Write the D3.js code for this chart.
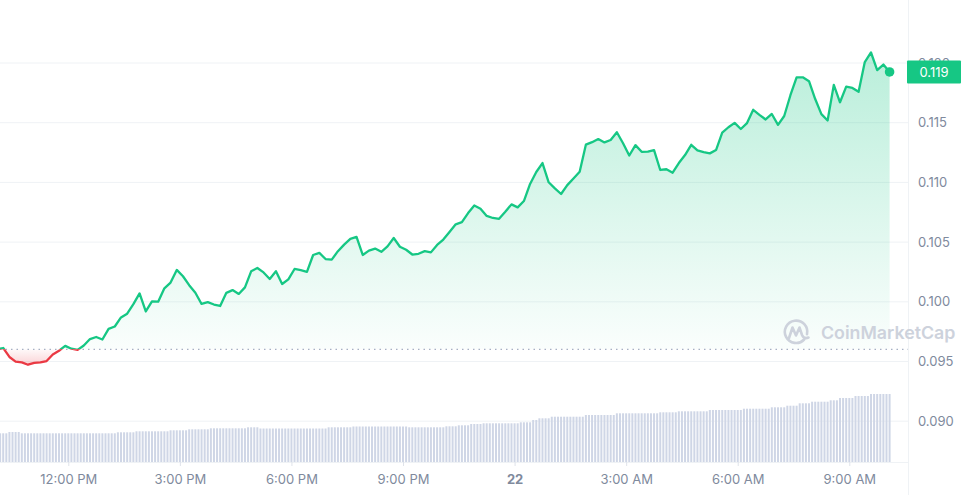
<!DOCTYPE html>
<html>
<head>
<meta charset="utf-8">
<script src="https://cdn.jsdelivr.net/npm/d3@7"></script>
<style>
  html, body { margin: 0; padding: 0; background: #fff; }
  svg { display: block; font-family: Inter, "Noto Sans", sans-serif; }
</style>
</head>
<body>
<div id="chart"></div>
<script>
'use strict';

// price every 10 min, 10:05 AM (21st) -> 10:05 AM (22nd)
const priceStart = new Date(2023, 9, 21, 10, 5);
const prices = [
  0.09602, 0.09613, 0.09538, 0.09499, 0.09493, 0.09473, 0.09488, 0.09492, 0.09504, 0.09559,
  0.09590, 0.09631, 0.09607, 0.09597, 0.09634, 0.09688, 0.09705, 0.09684, 0.09773, 0.09793,
  0.09869, 0.09900, 0.09980, 0.10070, 0.09919, 0.10003, 0.10001, 0.10113, 0.10161, 0.10267,
  0.10214, 0.10139, 0.10076, 0.09982, 0.09997, 0.09977, 0.09965, 0.10075, 0.10098, 0.10066,
  0.10121, 0.10255, 0.10283, 0.10246, 0.10191, 0.10256, 0.10149, 0.10188, 0.10275, 0.10265,
  0.10251, 0.10392, 0.10410, 0.10358, 0.10353, 0.10424, 0.10479, 0.10527, 0.10543, 0.10392,
  0.10429, 0.10446, 0.10419, 0.10464, 0.10534, 0.10461, 0.10436, 0.10396, 0.10402, 0.10424,
  0.10414, 0.10476, 0.10521, 0.10585, 0.10649, 0.10667, 0.10743, 0.10807, 0.10780, 0.10719,
  0.10702, 0.10695, 0.10754, 0.10816, 0.10791, 0.10844, 0.10987, 0.11087, 0.11162, 0.11001,
  0.10950, 0.10903, 0.10977, 0.11033, 0.11090, 0.11316, 0.11337, 0.11363, 0.11335, 0.11355,
  0.11420, 0.11328, 0.11225, 0.11312, 0.11256, 0.11257, 0.11270, 0.11104, 0.11110, 0.11081,
  0.11162, 0.11229, 0.11315, 0.11268, 0.11253, 0.11243, 0.11271, 0.11416, 0.11462, 0.11499,
  0.11447, 0.11497, 0.11608, 0.11566, 0.11527, 0.11573, 0.11482, 0.11556, 0.11730, 0.11879,
  0.11880, 0.11848, 0.11698, 0.11572, 0.11519, 0.11817, 0.11671, 0.11802, 0.11791, 0.11759,
  0.12008, 0.12088, 0.11941, 0.11987, 0.11925
];

// volume bars every 5 min from 10:10 AM
const volumeStart = new Date(2023, 9, 21, 10, 10);
const volumes = [
  287, 287, 287,
  300, 300, 300, 300,
  287, 287, 287, 287, 287, 287, 287, 287, 287, 287, 287, 287, 287, 287, 287, 287,
  287, 287, 287, 287, 287, 287, 287, 287, 287, 287, 287, 287, 287, 287, 287,
  297, 297, 297, 297, 297, 297,
  307, 307, 307, 307, 307, 307, 307, 307, 307, 307, 307,
  317, 317, 317, 317, 317, 317,
  327, 327, 327, 327, 327, 327, 327,
  337, 337, 337, 337, 337, 337, 337, 337, 337, 337, 337, 337,
  347, 347, 347, 347,
  335, 335, 335, 335, 335, 335, 335, 335, 335, 335, 335,
  335, 335, 335, 335, 335, 335, 335, 335, 335, 335, 335,
  347, 347, 347, 347, 347, 347, 347, 347,
  355, 355, 355, 355, 355, 355, 355, 355, 355, 355, 355, 355, 355, 355, 355, 355, 355, 355,
  347, 347, 347, 347, 347, 347, 347, 347, 347, 347, 347, 347,
  357, 357, 357, 357,
  367, 367, 367, 367,
  380, 380, 380, 380,
  387, 387, 387, 387, 387, 387, 387, 387, 387, 387, 387, 387,
  397, 397, 397, 397,
  420, 420,
  437, 437, 437, 437,
  453, 453, 453, 453, 453, 453, 453, 453, 453, 453, 453,
  470, 470, 470, 470, 470, 470, 470, 470, 470, 470,
  487, 487, 487, 487, 487, 487, 487, 487, 487, 487, 487, 487, 487, 487,
  497, 497, 497, 497, 497, 497,
  507, 507, 507, 507, 507, 507, 507, 507, 507, 507,
  520, 520, 520, 520, 520, 520, 520, 520, 520, 520, 520,
  533, 533, 533, 533, 533, 533, 533, 533, 533,
  547, 547, 547, 547, 547,
  563, 563, 563, 563,
  587, 587, 587, 587,
  603, 603, 603, 603, 603, 603,
  617, 617, 617,
  640, 640, 640, 640, 640,
  660, 660, 660, 660, 660,
  680, 680, 680, 680, 680, 680, 680
];

const yTicks = [0.090, 0.095, 0.100, 0.105, 0.110, 0.115, 0.120];
const xTickTimes = [
  new Date(2023, 9, 21, 12), new Date(2023, 9, 21, 15), new Date(2023, 9, 21, 18),
  new Date(2023, 9, 21, 21), new Date(2023, 9, 22, 0), new Date(2023, 9, 22, 3),
  new Date(2023, 9, 22, 6), new Date(2023, 9, 22, 9)
];
const xTickLabels = ['12:00 PM', '3:00 PM', '6:00 PM', '9:00 PM', '22', '3:00 AM', '6:00 AM', '9:00 AM'];
const lastLabel = '0.119';

drawChart('#chart');

function drawChart(el) {
  const width = 967;
  const height = 495;
  const plotRight = 908;
  const volBottom = 462;
  const volTop = 394;

  const green = '#16c784';
  const red = '#ea3943';
  const grid = '#eff2f5';
  const labelColor = '#808a9d';

  const priceData = prices.map((v, i) => ({ t: d3.timeMinute.offset(priceStart, i * 10), v }));
  const volData = volumes.map((v, i) => ({ t: d3.timeMinute.offset(volumeStart, i * 5), v }));

  const svg = d3.select(el)
    .append('svg')
    .attr('width', width)
    .attr('height', height);

  // escalas
  const x = d3.scaleTime()
    .domain([xTickTimes[0], xTickTimes[xTickTimes.length - 1]])
    .range([68.3, 849.3]);

  const y = d3.scaleLinear()
    .domain([0.090, 0.120])
    .range([421.2, 63]);

  const yVol = d3.scaleLinear()
    .domain([0, d3.max(volumes)])
    .range([volBottom, volTop]);

  const baseY = y(prices[0]);

  // gradients and clips
  const defs = svg.append('defs');
  const gUp = defs.append('linearGradient')
    .attr('id', 'gUp')
    .attr('gradientUnits', 'userSpaceOnUse')
    .attr('x1', 0).attr('x2', 0)
    .attr('y1', y(d3.max(prices))).attr('y2', baseY);
  gUp.append('stop').attr('offset', 0).attr('stop-color', green).attr('stop-opacity', 0.3);
  gUp.append('stop').attr('offset', 1).attr('stop-color', green).attr('stop-opacity', 0.02);

  const gDown = defs.append('linearGradient')
    .attr('id', 'gDown')
    .attr('gradientUnits', 'userSpaceOnUse')
    .attr('x1', 0).attr('x2', 0)
    .attr('y1', baseY).attr('y2', y(d3.min(prices)));
  gDown.append('stop').attr('offset', 0).attr('stop-color', red).attr('stop-opacity', 0.03);
  gDown.append('stop').attr('offset', 1).attr('stop-color', red).attr('stop-opacity', 0.22);

  defs.append('clipPath').attr('id', 'clipUp')
    .append('rect')
    .attr('x', 0).attr('y', 0)
    .attr('width', plotRight).attr('height', baseY);
  defs.append('clipPath').attr('id', 'clipDown')
    .append('rect')
    .attr('x', 0).attr('y', baseY)
    .attr('width', plotRight).attr('height', height - baseY);

  // grid lines
  svg.append('g')
    .selectAll('line')
    .data(yTicks)
    .enter()
    .append('line')
    .attr('x1', 0)
    .attr('x2', plotRight)
    .attr('y1', d => y(d))
    .attr('y2', d => y(d))
    .attr('stroke', grid);

  svg.append('line')
    .attr('x1', 0).attr('x2', plotRight)
    .attr('y1', volBottom + 0.5).attr('y2', volBottom + 0.5)
    .attr('stroke', grid);

  svg.append('line')
    .attr('x1', plotRight + 0.5).attr('x2', plotRight + 0.5)
    .attr('y1', 0).attr('y2', height)
    .attr('stroke', grid);

  // volume bars
  svg.append('g')
    .selectAll('rect')
    .data(volData)
    .enter()
    .append('rect')
    .attr('x', d => x(d.t) - 1)
    .attr('y', d => yVol(d.v))
    .attr('width', 2)
    .attr('height', d => volBottom - yVol(d.v))
    .attr('fill', '#cfd6e6');

  // areas
  const area = d3.area()
    .x(d => x(d.t))
    .y0(baseY)
    .y1(d => y(d.v));

  svg.append('path')
    .datum(priceData)
    .attr('d', area)
    .attr('fill', 'url(#gUp)')
    .attr('clip-path', 'url(#clipUp)');

  svg.append('path')
    .datum(priceData)
    .attr('d', area)
    .attr('fill', 'url(#gDown)')
    .attr('clip-path', 'url(#clipDown)');

  // dotted open price line
  svg.append('line')
    .attr('x1', 0).attr('x2', plotRight)
    .attr('y1', baseY).attr('y2', baseY)
    .attr('stroke', '#a6b0c3')
    .attr('stroke-width', 1.2)
    .attr('stroke-dasharray', '1.5,4');

  // watermark
  const wm = svg.append('g').attr('fill', 'none').attr('stroke', '#cdd2dc');
  wm.append('path')
    .attr('transform', 'translate(796,332)')
    .attr('stroke-width', 2.6)
    .attr('stroke-linecap', 'round')
    .attr('d', 'M 8.2 7.5 A 11.2 11.2 0 1 1 11 2.2');
  wm.append('path')
    .attr('transform', 'translate(796,332)')
    .attr('stroke-width', 2.6)
    .attr('stroke-linecap', 'round')
    .attr('stroke-linejoin', 'round')
    .attr('d', 'M -7 6 L -3.5 -4.5 L 0 3.5 L 3.5 -4.5 L 6 3 Q 8 7.5 12.5 5.5');
  svg.append('text')
    .attr('x', 821)
    .attr('y', 339)
    .attr('fill', '#cdd2dc')
    .attr('font-size', 17.8)
    .attr('font-weight', 600)
    .text('CoinMarketCap');

  // price line
  const line = d3.line()
    .x(d => x(d.t))
    .y(d => y(d.v));

  svg.append('path')
    .datum(priceData)
    .attr('d', line)
    .attr('fill', 'none')
    .attr('stroke', green)
    .attr('stroke-width', 2.3)
    .attr('stroke-linejoin', 'round')
    .attr('clip-path', 'url(#clipUp)');

  svg.append('path')
    .datum(priceData)
    .attr('d', line)
    .attr('fill', 'none')
    .attr('stroke', red)
    .attr('stroke-width', 2.3)
    .attr('stroke-linejoin', 'round')
    .attr('clip-path', 'url(#clipDown)');

  const last = priceData[priceData.length - 1];
  svg.append('circle')
    .attr('cx', x(last.t))
    .attr('cy', y(last.v))
    .attr('r', 4.8)
    .attr('fill', green);

  // eje X
  const xAxis = d3.axisBottom(x)
    .tickValues(xTickTimes)
    .tickFormat((d, i) => xTickLabels[i])
    .tickSize(4)
    .tickPadding(9);
  const gx = svg.append('g')
    .attr('transform', `translate(0, ${volBottom})`)
    .call(xAxis);
  gx.select('.domain').remove();
  gx.selectAll('line').attr('stroke', '#dfe3ea');
  gx.selectAll('text')
    .attr('fill', labelColor)
    .attr('font-size', 13)
    .attr('font-family', 'Inter, sans-serif')
    .attr('font-weight', (d, i) => xTickLabels[i] === '22' ? 700 : 400);

  // eje Y (0.120 sits under the price tag, as in the original)
  const yAxis = d3.axisRight(y)
    .tickValues(yTicks)
    .tickFormat(d3.format('.3f'))
    .tickSize(0)
    .tickPadding(10);
  const gy = svg.append('g')
    .attr('transform', `translate(${plotRight}, 0)`)
    .call(yAxis);
  gy.select('.domain').remove();
  gy.selectAll('text')
    .attr('fill', labelColor)
    .attr('font-size', 13)
    .attr('font-family', 'Inter, sans-serif');

  // current price tag
  const tagY = y(last.v);
  svg.append('rect')
    .attr('x', 907)
    .attr('y', tagY - 11.5)
    .attr('width', 54)
    .attr('height', 23)
    .attr('rx', 1)
    .attr('fill', green);
  svg.append('text')
    .attr('x', 934)
    .attr('y', tagY)
    .attr('dy', '0.36em')
    .attr('text-anchor', 'middle')
    .attr('fill', '#fff')
    .attr('font-size', 13)
    .text(lastLabel);
}
</script>
</body>
</html>
